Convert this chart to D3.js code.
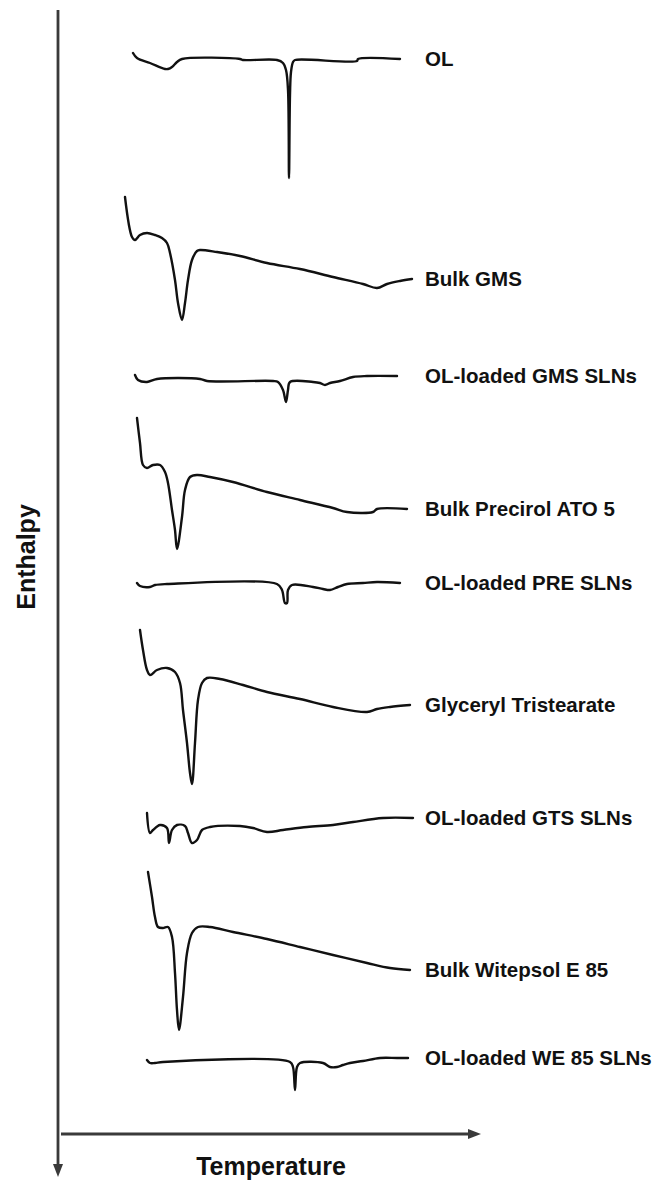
<!DOCTYPE html>
<html>
<head>
<meta charset="utf-8">
<script src="https://cdn.jsdelivr.net/npm/d3@7"></script>
<style>
html,body{margin:0;padding:0;background:#fff;}
svg{display:block;}
</style>
</head>
<body>
<svg id="chart" width="660" height="1180"></svg>
<script>
// ---- Data (temperature in arbitrary units, enthalpy signal in arbitrary stacked units) ----
const categories = [
  "OL",
  "Bulk GMS",
  "OL-loaded GMS SLNs",
  "Bulk Precirol ATO 5",
  "OL-loaded PRE SLNs",
  "Glyceryl Tristearate",
  "OL-loaded GTS SLNs",
  "Bulk Witepsol E 85",
  "OL-loaded WE 85 SLNs"
];

const olCurve = [[33,53],[37,58],[50,63],[65,69],[68,69],[72,67],[77,62],[82,59],[140,59],[143,60],[177,60],[183,63],[186,70],[188,90],[189,178],[190,95],[191,72],[193,62],[195,60],[257,61],[258,59],[300,59]];
const bulkGMS = [[25,197],[32,237],[35,240],[40,235],[47,233],[55,235],[62,238],[67,243],[70,253],[75,280],[78,303],[82,320],[85,303],[88,280],[92,260],[97,251],[100,250],[117,252],[140,256],[167,263],[200,269],[233,277],[263,284],[277,288],[287,284],[300,281],[312,279]];
const gmsSLN = [[35,375],[38,380],[47,382],[57,379],[100,379],[107,381],[173,381],[178,382],[183,390],[186,402],[188,390],[190,382],[213,382],[220,383],[225,385],[230,383],[240,381],[253,377],[267,376],[297,376]];
const bulkPrecirol = [[37,418],[40,443],[43,465],[47,468],[53,465],[60,465],[65,472],[68,483],[72,510],[75,530],[77,549],[82,517],[85,490],[90,477],[97,475],[110,477],[133,482],[167,492],[200,500],[233,508],[247,512],[273,512],[277,509],[307,509]];
const preSLN = [[37,583],[40,586],[50,587],[55,585],[67,584],[177,584],[182,590],[185,603],[187,603],[188,590],[192,585],[213,587],[223,589],[230,590],[238,587],[247,584],[263,583],[277,582],[300,583]];
const glycerylTS = [[40,630],[43,650],[47,670],[50,675],[57,670],[67,668],[75,672],[80,683],[83,710],[87,743],[90,773],[92,784],[95,743],[98,700],[102,683],[107,678],[120,679],[143,685],[167,692],[200,699],[233,707],[267,712],[277,709],[290,707],[310,705]];
const gtsSLN = [[47,813],[50,833],[53,830],[60,825],[67,828],[69,843],[72,830],[77,825],[85,826],[88,833],[92,843],[97,840],[102,830],[110,827],[140,826],[153,828],[167,832],[183,830],[207,827],[233,825],[253,822],[283,818],[313,818]];
const bulkWitepsol = [[48,872],[52,897],[55,917],[58,927],[63,928],[68,927],[72,937],[75,973],[77,1010],[79,1030],[83,997],[87,953],[92,933],[98,927],[110,927],[133,932],[167,939],[200,947],[233,955],[267,963],[290,968],[310,970]];
const weSLN = [[47,1060],[50,1063],[55,1063],[63,1062],[190,1062],[193,1067],[195,1090],[197,1067],[200,1063],[223,1063],[230,1067],[237,1067],[243,1065],[250,1063],[263,1061],[280,1058],[297,1058],[308,1058]];

const seriesValues = [olCurve, bulkGMS, gmsSLN, bulkPrecirol, preSLN, glycerylTS, gtsSLN, bulkWitepsol, weSLN];

const xAxisTitle = "Temperature";
const yAxisTitle = "Enthalpy";

// ---- Drawing ----
const svg = d3.select("#chart");
const FONT = "'Liberation Sans', Arial, Helvetica, sans-serif";

const x = d3.scaleLinear().domain([0, 340]).range([100, 440]);
const y = d3.scaleLinear().domain([0, 1180]).range([0, 1180]);

// axes
const axisColor = "#3a3a3a";
const axisX = 58, axisTop = 10, axisBottom = 1166;
const hAxisY = 1134, hAxisRight = 470;

svg.append("line").attr("x1", axisX).attr("y1", axisTop).attr("x2", axisX).attr("y2", axisBottom)
  .attr("stroke", axisColor).attr("stroke-width", 2.8);
svg.append("path")
  .attr("d", `M${axisX-5},${axisBottom-2} L${axisX+5},${axisBottom-2} L${axisX},${axisBottom+11} Z`)
  .attr("fill", axisColor);

svg.append("line").attr("x1", axisX + 3).attr("y1", hAxisY).attr("x2", hAxisRight).attr("y2", hAxisY)
  .attr("stroke", axisColor).attr("stroke-width", 2.8);
svg.append("path")
  .attr("d", `M${hAxisRight-2},${hAxisY-5} L${hAxisRight-2},${hAxisY+5} L${hAxisRight+11},${hAxisY} Z`)
  .attr("fill", axisColor);

svg.append("text")
  .attr("x", 271).attr("y", 1175)
  .attr("text-anchor", "middle")
  .attr("font-family", FONT).attr("font-weight", "bold").attr("font-size", 25)
  .attr("fill", "#111")
  .text(xAxisTitle);

svg.append("text")
  .attr("transform", "translate(35,557) rotate(-90)")
  .attr("text-anchor", "middle")
  .attr("font-family", FONT).attr("font-weight", "bold").attr("font-size", 25)
  .attr("fill", "#111")
  .text(yAxisTitle);

// curves
const lineCR = d3.line().x(d => x(d[0])).y(d => y(d[1])).curve(d3.curveCatmullRom.alpha(0.5));

const g = svg.append("g");
seriesValues.forEach((s, i) => {
  g.append("path")
    .datum(s)
    .attr("d", lineCR)
    .attr("fill", "none")
    .attr("stroke", "#111")
    .attr("stroke-width", 2.4)
    .attr("stroke-linejoin", "round")
    .attr("stroke-linecap", "round");
  const last = s[s.length - 1];
  g.append("text")
    .attr("x", 425)
    .attr("y", y(last[1]))
    .attr("dy", "0.36em")
    .attr("font-family", FONT).attr("font-weight", "bold").attr("font-size", 20.5)
    .attr("fill", "#111")
    .text(categories[i]);
});
</script>
</body>
</html>
